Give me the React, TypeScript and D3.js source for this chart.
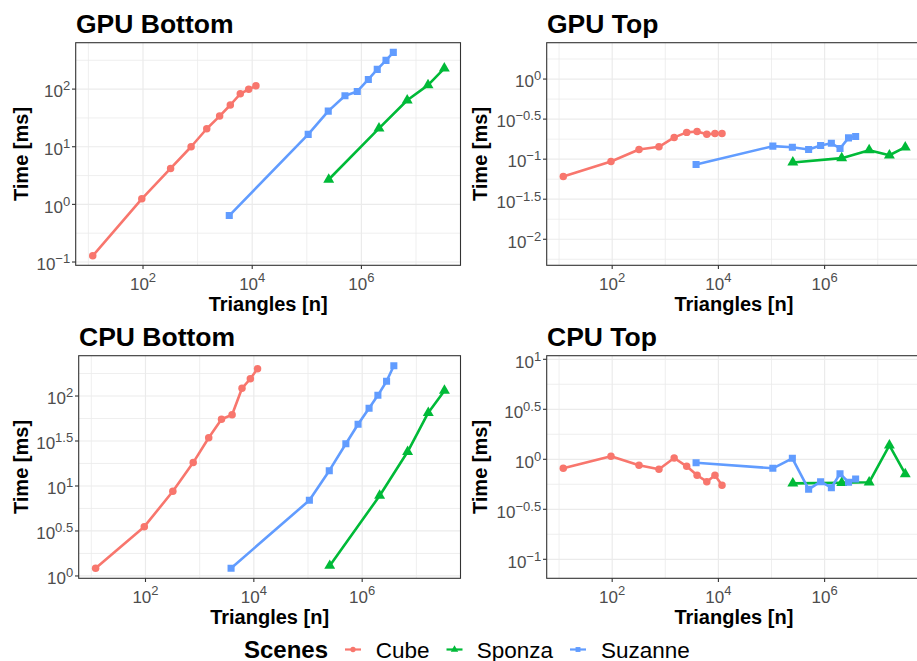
import React from "react";
import * as d3 from "d3";

// ---------- data ----------
const scenes = ["Cube", "Sponza", "Suzanne"];
const sceneColors = ["#F8766D", "#00BA38", "#619CFF"];

const cubeTriangles = [12, 95, 320, 760, 1470, 2530, 3970, 6050, 8620, 11700];
const sponzaTriangles = [252000, 2100000, 6900000, 16600000, 33000000];
const suzanneTriangles = [3800, 106000, 247000, 500000, 840000, 1340000, 1950000, 2820000, 3840000];

// GPU Bottom [ms]
const gpuBottomCube = [0.128, 1.25, 4.2, 10, 20.5, 34, 53, 83, 99, 114];
const gpuBottomSponza = [2.7, 20.8, 64, 117, 229];
const gpuBottomSuzanne = [0.64, 16.4, 41.5, 76.6, 91, 147, 220, 315, 434];

// GPU Top [ms]
const gpuTopCube = [0.0608, 0.0936, 0.132, 0.1426, 0.187, 0.216, 0.222, 0.204, 0.2096, 0.2096];
const gpuTopSponza = [0.091, 0.103, 0.1296, 0.112, 0.141];
const gpuTopSuzanne = [0.0859, 0.1454, 0.141, 0.132, 0.148, 0.158, 0.136, 0.1846, 0.192];

// CPU Bottom [ms]
const cpuBottomCube = [1.218, 3.53, 8.73, 18.2, 34.4, 55.1, 62, 121.9, 155.6, 201];
const cpuBottomSponza = [1.3, 7.8, 24, 65.2, 114.6];
const cpuBottomSuzanne = [1.218, 6.94, 14.8, 29.5, 48.5, 73, 101.8, 145.7, 217];

// CPU Top [ms]
const cpuTopCube = [0.813, 1.072, 0.871, 0.794, 1.03, 0.851, 0.692, 0.597, 0.692, 0.55];
const cpuTopSponza = [0.575, 0.583, 0.589, 1.38, 0.713];
const cpuTopSuzanne = [0.925, 0.813, 1.023, 0.501, 0.597, 0.52, 0.718, 0.589, 0.635];

// axis breaks (log10 exponents)
const xTickExponents = [2, 4, 6];
const xMinorExponents = [1, 3, 5, 7];
const xLimitsExp = [0.767, 7.815];

const gpuBottomTicks = [-1, 0, 1, 2];
const gpuTopTicks = [-2, -1.5, -1, -0.5, 0];
const cpuBottomTicks = [0, 0.5, 1, 1.5, 2];
const cpuTopTicks = [-1, -0.5, 0, 0.5, 1];

const gpuBottomLimits = [-1.057, 2.805];
const gpuTopLimits = [-2.325, 0.454];
const cpuBottomLimits = [-0.026, 2.448];
const cpuTopLimits = [-1.19, 1.036];

const xTitle = "Triangles [n]";
const yTitle = "Time [ms]";
const legendTitle = "Scenes";

// ---------- layout ----------
const FONT = "'Liberation Sans', Arial, Helvetica, sans-serif";
const W = 917;
const H = 661;

type PanelDef = {
  title: string;
  plotX: number;
  left: number;
  right: number;
  top: number;
  bottom: number;
  yLimits: number[];
  yTicks: number[];
  series: number[][];
};

const triangleSets = [cubeTriangles, sponzaTriangles, suzanneTriangles];

const panels: PanelDef[] = [
  { title: "GPU Bottom", plotX: 0, left: 75.7, right: 460.5, top: 42.7, bottom: 265.3, yLimits: gpuBottomLimits, yTicks: gpuBottomTicks, series: [gpuBottomCube, gpuBottomSponza, gpuBottomSuzanne] },
  { title: "GPU Top", plotX: 458.5, left: 546.7, right: 921, top: 42.7, bottom: 265.3, yLimits: gpuTopLimits, yTicks: gpuTopTicks, series: [gpuTopCube, gpuTopSponza, gpuTopSuzanne] },
  { title: "CPU Bottom", plotX: 0, left: 78.7, right: 460.5, top: 355.7, bottom: 578.3, yLimits: cpuBottomLimits, yTicks: cpuBottomTicks, series: [cpuBottomCube, cpuBottomSponza, cpuBottomSuzanne] },
  { title: "CPU Top", plotX: 458.5, left: 546.7, right: 921, top: 355.7, bottom: 578.3, yLimits: cpuTopLimits, yTicks: cpuTopTicks, series: [cpuTopCube, cpuTopSponza, cpuTopSuzanne] },
];

const symbolTypes = [d3.symbolCircle, d3.symbolTriangle, d3.symbolSquare];
const symbolSizes = [44, 52, 50];
const legendSymbolSizes = [22, 24, 24];

function fmtExp(e: number): string {
  return e < 0 ? "\u2212" + String(Math.abs(e)) : String(e);
}

function minorBreaks(ticks: number[], lim: number[]): number[] {
  const step = ticks.length > 1 ? ticks[1] - ticks[0] : 1;
  const out: number[] = [];
  for (let v = ticks[0] - step / 2; v <= ticks[ticks.length - 1] + step / 2 + 1e-9; v += step) {
    if (v >= lim[0] && v <= lim[1]) out.push(v);
  }
  return out;
}

function Panel({ p }: { p: PanelDef }) {
  const x = d3.scaleLog().domain([Math.pow(10, xLimitsExp[0]), Math.pow(10, xLimitsExp[1])]).range([p.left, p.right]);
  const y = d3.scaleLog().domain([Math.pow(10, p.yLimits[0]), Math.pow(10, p.yLimits[1])]).range([p.bottom, p.top]);
  const yMinor = minorBreaks(p.yTicks, p.yLimits);
  const clipId = "clip-" + p.title.replace(/\s/g, "");
  const line = d3.line<[number, number]>().x((d) => x(d[0])).y((d) => y(d[1]));

  const seriesPts = p.series.map((vals, i) => vals.map((v, j) => [triangleSets[i][j], v] as [number, number]));

  return (
    <g>
      <defs>
        <clipPath id={clipId}>
          <rect x={p.left} y={p.top} width={p.right - p.left} height={p.bottom - p.top} />
        </clipPath>
      </defs>
      {/* grid */}
      <g>
        {xMinorExponents.map((e) => (
          <line key={"xm" + e} x1={x(Math.pow(10, e))} x2={x(Math.pow(10, e))} y1={p.top} y2={p.bottom} stroke="#EBEBEB" strokeWidth={0.8} />
        ))}
        {yMinor.map((e) => (
          <line key={"ym" + e} x1={p.left} x2={p.right} y1={y(Math.pow(10, e))} y2={y(Math.pow(10, e))} stroke="#EBEBEB" strokeWidth={0.8} />
        ))}
        {xTickExponents.map((e) => (
          <line key={"xM" + e} x1={x(Math.pow(10, e))} x2={x(Math.pow(10, e))} y1={p.top} y2={p.bottom} stroke="#EBEBEB" strokeWidth={1.2} />
        ))}
        {p.yTicks.map((e) => (
          <line key={"yM" + e} x1={p.left} x2={p.right} y1={y(Math.pow(10, e))} y2={y(Math.pow(10, e))} stroke="#EBEBEB" strokeWidth={1.2} />
        ))}
      </g>
      {/* data */}
      <g clipPath={`url(#${clipId})`}>
        {seriesPts.map((pts, i) => (
          <path key={"l" + i} d={line(pts) || ""} fill="none" stroke={sceneColors[i]} strokeWidth={2.6} strokeLinejoin="round" />
        ))}
        {seriesPts.map((pts, i) =>
          pts.map((d, j) => (
            <path
              key={"p" + i + "-" + j}
              transform={`translate(${x(d[0])},${y(d[1])})`}
              d={d3.symbol().type(symbolTypes[i]).size(symbolSizes[i])() || ""}
              fill={sceneColors[i]}
            />
          ))
        )}
      </g>
      {/* border */}
      <rect x={p.left} y={p.top} width={p.right - p.left} height={p.bottom - p.top} fill="none" stroke="#333333" strokeWidth={1.1} />
      {/* x axis ticks */}
      {xTickExponents.map((e) => {
        const xx = x(Math.pow(10, e));
        return (
          <g key={"xt" + e}>
            <line x1={xx} x2={xx} y1={p.bottom} y2={p.bottom + 3.7} stroke="#333333" strokeWidth={1.1} />
            <text x={xx} y={p.bottom + 24.5} textAnchor="middle" fontFamily={FONT} fontSize={17} fill="#4D4D4D">
              <tspan>10</tspan>
              <tspan dy={-7.5} fontSize={13}>{fmtExp(e)}</tspan>
            </text>
          </g>
        );
      })}
      {/* y axis ticks */}
      {p.yTicks.map((e) => {
        const yy = y(Math.pow(10, e));
        return (
          <g key={"yt" + e}>
            <line x1={p.left - 3.7} x2={p.left} y1={yy} y2={yy} stroke="#333333" strokeWidth={1.1} />
            <text x={p.left - 5.5} y={yy + 8.3} textAnchor="end" fontFamily={FONT} fontSize={17} fill="#4D4D4D">
              <tspan>10</tspan>
              <tspan dy={-7} fontSize={13}>{fmtExp(e)}</tspan>
            </text>
          </g>
        );
      })}
      {/* titles */}
      <text x={p.left + 0.3} y={p.top - 9.7} fontFamily={FONT} fontSize={26.5} fontWeight="bold" fill="#000">
        {p.title}
      </text>
      <text x={(p.left + p.right) / 2} y={p.bottom + 45.2} textAnchor="middle" fontFamily={FONT} fontSize={20} fontWeight="bold" fill="#000">
        {xTitle}
      </text>
      <text
        transform={`translate(${p.plotX + 28},${(p.top + p.bottom) / 2}) rotate(-90)`}
        textAnchor="middle"
        fontFamily={FONT}
        fontSize={20}
        fontWeight="bold"
        fill="#000"
      >
        {yTitle}
      </text>
    </g>
  );
}

function Legend() {
  const keyCenters = [353, 454.5, 578];
  const labelX = [375.7, 476.7, 601];
  const keyY = 649.5;
  const baseY = 657.5;
  return (
    <g>
      <text x={244} y={baseY} fontFamily={FONT} fontSize={24} fontWeight="bold" fill="#000">
        {legendTitle}
      </text>
      {scenes.map((s, i) => (
        <g key={s}>
          <line x1={keyCenters[i] - 8} x2={keyCenters[i] + 8} y1={keyY} y2={keyY} stroke={sceneColors[i]} strokeWidth={2.2} />
          <path
            transform={`translate(${keyCenters[i]},${keyY})`}
            d={d3.symbol().type(symbolTypes[i]).size(legendSymbolSizes[i])() || ""}
            fill={sceneColors[i]}
          />
          <text x={labelX[i]} y={baseY} fontFamily={FONT} fontSize={22.5} fill="#000">
            {s}
          </text>
        </g>
      ))}
    </g>
  );
}

export default function App() {
  return (
    <div style={{ position: "absolute", left: 0, top: 0, width: W, height: H, overflow: "hidden", background: "#fff" }}>
      <svg width={W} height={H} viewBox={`0 0 ${W} ${H}`} style={{ display: "block" }}>
        <rect x={0} y={0} width={W} height={H} fill="#fff" />
        {panels.map((p) => (
          <Panel key={p.title} p={p} />
        ))}
        <Legend />
      </svg>
    </div>
  );
}
